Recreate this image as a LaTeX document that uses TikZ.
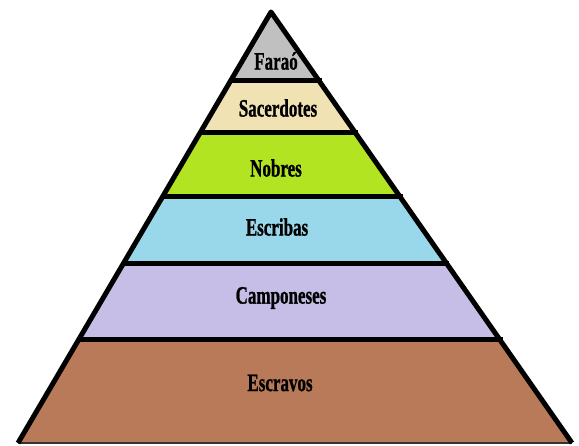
\documentclass[tikz,border=0pt]{standalone}
\usepackage{fontspec}
\setmainfont{Liberation Serif}
\newfontfamily\lblfont[FakeBold=1.2]{Liberation Serif Bold}
\usetikzlibrary{calc}
\definecolor{cfarao}{RGB}{192,192,192}
\definecolor{csacer}{RGB}{240,226,178}
\definecolor{cnobres}{RGB}{178,228,34}
\definecolor{cescribas}{RGB}{152,216,234}
\definecolor{ccampo}{RGB}{198,190,230}
\definecolor{cescravos}{RGB}{184,122,88}
\tikzset{
  lbl/.style={font=\lblfont\fontsize{25}{25}\selectfont, inner sep=0pt, xscale=0.68},
  edge/.style={line width=5pt, line join=round},
  sep/.style={line width=5pt}
}
\begin{document}
\begin{tikzpicture}[x=1pt,y=-1pt]
\useasboundingbox (0,0) rectangle (579,445);
\fill[white] (0,0) rectangle (579,445);
\coordinate (A) at (271,12);
\coordinate (BL) at (18,443);
\coordinate (BR) at (572,443);
\foreach \n/\t in {1/0.1578,2/0.2807,3/0.4292,4/0.5824,5/0.7610}{
  \coordinate (L\n) at ($(A)!\t!(BL)$);
  \coordinate (R\n) at ($(A)!\t!(BR)$);
}
\fill[cfarao] (A) -- (L1) -- (R1) -- cycle;
\fill[csacer] (L1) -- (L2) -- (R2) -- (R1) -- cycle;
\fill[cnobres] (L2) -- (L3) -- (R3) -- (R2) -- cycle;
\fill[cescribas] (L3) -- (L4) -- (R4) -- (R3) -- cycle;
\fill[ccampo] (L4) -- (L5) -- (R5) -- (R4) -- cycle;
\fill[cescravos] (L5) -- (BL) -- (BR) -- (R5) -- cycle;
\foreach \n in {1,...,5}{
  \draw[sep] (L\n) -- ($(R\n)+(3,0)$);
}
\draw[line width=1.5pt, black!80] (BL) -- (BR);
\draw[edge] (BL) -- (A) -- (BR);
\node[lbl] (farao) at (276,61) {Faraó};
\node[lbl] (sacer) at (278,108) {Sacerdotes};
\node[lbl] (nobres) at (276,168) {Nobres};
\node[lbl] (escribas) at (277,227) {Escribas};
\node[lbl] (campo) at (281,298) {Camponeses};
\node[lbl] (escravos) at (280,383) {Escravos};
\end{tikzpicture}
\end{document}
